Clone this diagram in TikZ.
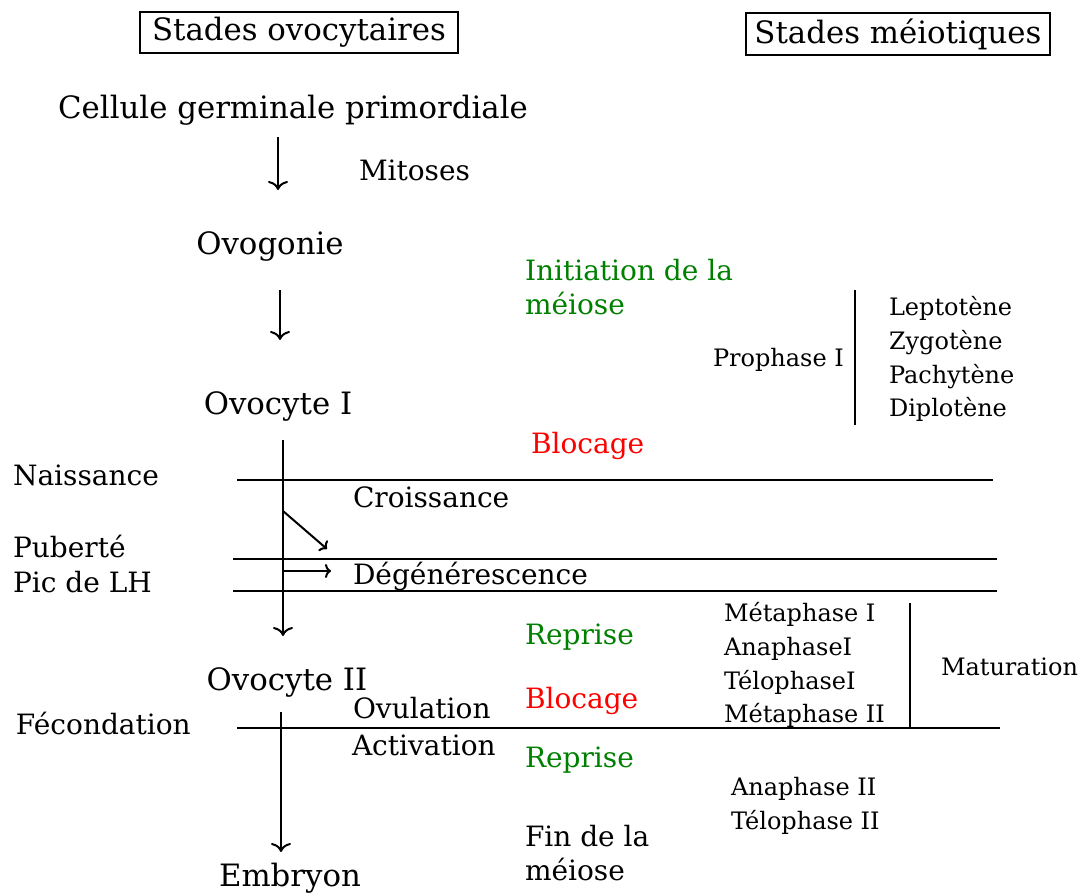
\documentclass[tikz,border=0pt]{standalone}
\usepackage{fontspec}
\setmainfont{DejaVu Serif}
\usepackage{xcolor}
\usepackage{tikz}
\usetikzlibrary{arrows.meta}
\definecolor{vert}{RGB}{0,128,0}
\definecolor{rouge}{RGB}{255,0,0}

\begin{document}
\begin{tikzpicture}[x=0.5pt, y=-0.5pt, line width=1pt,
  titre/.style={draw, line width=1pt, inner sep=0pt, font=\fontsize{15.4}{18}\selectfont},
  stade/.style={font=\fontsize{15.4}{18}\selectfont, anchor=base},
  evt/.style={font=\fontsize{14}{17}\selectfont, anchor=base west, inner sep=0pt},
  phase/.style={font=\fontsize{12}{14}\selectfont, anchor=base west, inner sep=0pt},
  fleche/.style={-{To[length=4.5pt,width=10pt]}},
  petite/.style={-{To[length=3pt,width=7pt]}}]
\useasboundingbox (0,0) rectangle (1084,894);
% titres
\node[titre, minimum width=159pt, minimum height=20.5pt] (tovo) at (299,32) {Stades ovocytaires};
\node[titre, minimum width=152pt, minimum height=21pt] (tmei) at (898,34) {Stades méiotiques};
% stades ovocytaires
\node[stade] (cgp) at (293,119) {Cellule germinale primordiale};
\node[stade] (ovog) at (270,254) {Ovogonie};
\node[stade] (ovo1) at (278,414) {Ovocyte I};
\node[stade] (ovo2) at (287,690) {Ovocyte II};
\node[stade] (emb) at (290,886) {Embryon};
% evenements
\node[evt] (mit) at (358,180) {Mitoses};
\node[evt] (nais) at (12,485) {Naissance};
\node[evt] (crois) at (352,507) {Croissance};
\node[evt] (pub) at (12,557) {Puberté};
\node[evt] (piclh) at (12,592) {Pic de LH};
\node[evt] (degen) at (352,584) {Dégénérescence};
\node[evt] (ovul) at (352,718) {Ovulation};
\node[evt] (fec) at (15,734) {Fécondation};
\node[evt] (activ) at (351,755) {Activation};
% meiose
\node[evt, vert] (init1) at (524,280) {Initiation de la};
\node[evt, vert] (init2) at (524,314) {méiose};
\node[evt, rouge] (bloc1) at (530,453) {Blocage};
\node[evt, vert] (rep1) at (524,644) {Reprise};
\node[evt, rouge] (bloc2) at (524,708) {Blocage};
\node[evt, vert] (rep2) at (524,767) {Reprise};
\node[evt] (fin1) at (524,846) {Fin de la};
\node[evt] (fin2) at (524,880) {méiose};
% phases
\node[phase] (proph) at (712,366) {Prophase I};
\node[phase] (lepto) at (888,315) {Leptotène};
\node[phase] (zygo) at (888,349) {Zygotène};
\node[phase] (pachy) at (888,383) {Pachytène};
\node[phase] (diplo) at (888,416) {Diplotène};
\node[phase] (meta1) at (723,621) {Métaphase I};
\node[phase] (ana1) at (723,655) {AnaphaseI};
\node[phase] (telo1) at (723,689) {TélophaseI};
\node[phase] (meta2) at (723,722) {Métaphase II};
\node[phase] (matur) at (940,675) {Maturation};
\node[phase] (ana2) at (730,795) {Anaphase II};
\node[phase] (telo2) at (730,829) {Télophase II};
% fleches
\coordinate (f1a) at (278,137);
\coordinate (f1b) at (278,190);
\coordinate (f2a) at (280,290);
\coordinate (f2b) at (280,340);
\coordinate (f3a) at (283,440);
\coordinate (f3b) at (283,636);
\coordinate (f4a) at (281,712);
\coordinate (f4b) at (281,852);
\coordinate (d1a) at (283,511);
\coordinate (d1b) at (327,549);
\coordinate (h1a) at (283,571);
\coordinate (h1b) at (331,571);
\draw[fleche] (f1a) -- (f1b);
\draw[fleche] (f2a) -- (f2b);
\draw[fleche] (f3a) -- (f3b);
\draw[fleche] (f4a) -- (f4b);
\draw[petite] (d1a) -- (d1b);
\draw[petite] (h1a) -- (h1b);
% lignes
\draw (237,480) -- (993,480);
\draw (233,559) -- (997,559);
\draw (233,591) -- (997,591);
\draw (237,728) -- (1000,728);
\draw (855,290) -- (855,425);
\draw (910,603) -- (910,728);
\end{tikzpicture}
\end{document}
